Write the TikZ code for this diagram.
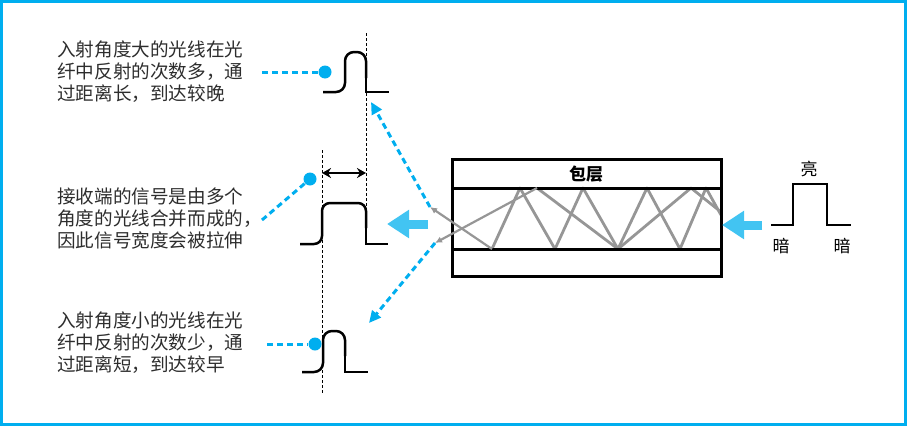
\documentclass[tikz,border=0pt]{standalone}
\usepackage{fontspec}
\setmainfont{Noto Sans CJK SC}
\usetikzlibrary{arrows.meta}

\definecolor{bleucadre}{RGB}{0,174,239}
\definecolor{bleufleche}{RGB}{66,196,242}
\definecolor{grisrayon}{RGB}{150,150,150}
\definecolor{gristexte}{RGB}{45,45,45}

\tikzset{
  texte/.style={align=left, text=gristexte, inner sep=0pt, anchor=west,
    font=\fontsize{18.6}{22}\selectfont},
  etiquette/.style={inner sep=0pt, font=\fontsize{17}{20}\selectfont},
  impulsion/.style={line width=2.5pt, black},
  bord/.style={line width=3pt, black},
  rayon/.style={grisrayon, line width=2.8pt, line join=round},
  sortie/.style={grisrayon, line width=2.2pt, -{Latex[length=7pt,width=6.5pt]}},
  point/.style={circle, fill=bleucadre, inner sep=0pt, minimum size=13pt},
  tirets/.style={bleucadre, line width=3pt, dash pattern=on 6pt off 4pt},
  grossefleche/.style={bleufleche, line width=9pt, -{Triangle[length=22pt,width=27pt]}},
  pointille/.style={line width=0.8pt, dash pattern=on 3pt off 2pt}
}

\begin{document}
\begin{tikzpicture}[x=1pt, y=-1pt]
      \useasboundingbox (0,0) rectangle (908,426);

      %cadre
      \draw[bleucadre, line width=3pt] (1.5,1.5) rectangle (905,424.5);

      %rayons dans le coeur
      \coordinate (b1) at (492,249);
      \coordinate (h1) at (537,188);
      \draw[rayon] (721,215) -- (706,188) -- (680,249) -- (647,188) -- (618,249)
        -- (583,188) -- (555,249) -- (520,188) -- (b1);
      \draw[rayon] (721,212) -- (691,188) -- (618,249) -- (h1);

      %fibre
      \draw[bord] (452,159) rectangle (721,276);
      \draw[bord] (452,188) -- (721,188);
      \draw[bord] (452,249) -- (721,249);
      \node[etiquette, font=\fontsize{17}{20}\selectfont\bfseries] (gaine) at (586,174) {包层};

      %sorties
      \coordinate (sortieH) at (430,207);
      \coordinate (sortieB) at (435,243);
      \coordinate (finH) at (371,102);
      \coordinate (finB) at (369,323);
      \draw[tirets, -{Triangle[length=12pt,width=11pt]}] (sortieH) -- (finH);
      \draw[tirets, -{Triangle[length=12pt,width=11pt]}] (sortieB) -- (finB);
      \draw[sortie] (b1) -- (sortieH);
      \draw[sortie] (h1) -- (sortieB);

      %grosses fleches
      \coordinate (entreeD) at (762,225);
      \coordinate (entreeG) at (722,225);
      \coordinate (quitteD) at (428,224);
      \coordinate (quitteG) at (387,224);
      \draw[grossefleche] (entreeD) -- (entreeG);
      \draw[grossefleche] (quitteD) -- (quitteG);

      %impulsion d'entree
      \draw[impulsion] (771,225) -- (793,225) -- (793,184) -- (827,184) -- (827,225) -- (851,225);
      \node[etiquette] (clair) at (809,169) {亮};
      \node[etiquette] (sombreG) at (781,246) {暗};
      \node[etiquette] (sombreD) at (842,246) {暗};

      %lignes verticales
      \draw[pointille] (322,150) -- (322,393);
      \draw[pointille] (366,33) -- (366,244);

      %impulsions de sortie
      \draw[impulsion, rounded corners=9pt] (323,92) -- (345,92) -- (345,52) -- (366,52) -- (366,78);
      \draw[impulsion] (366,64) -- (366,92) -- (389,92);
      \draw[impulsion, rounded corners=8pt] (300,244) -- (322,244) -- (322,203) -- (366,203) -- (366,228);
      \draw[impulsion] (366,212) -- (366,244) -- (388,244);
      \draw[impulsion, rounded corners=9pt] (302,372) -- (323,372) -- (323,331) -- (345,331) -- (345,356);
      \draw[impulsion] (345,342) -- (345,372) -- (368,372);

      %largeur
      \coordinate (largG) at (322,173);
      \coordinate (largD) at (366,173);
      \draw[line width=2.2pt, {Stealth[length=9pt,width=10pt]}-{Stealth[length=9pt,width=10pt]}] (largG) -- (largD);

      %textes
      \node[texte] (txtLong) at (57,72) {入射角度大的光线在光\\纤中反射的次数多，通\\过距离长，到达较晚};
      \node[texte] (txtLarge) at (57,219) {接收端的信号是由多个\\角度的光线合并而成的，\\因此信号宽度会被拉伸};
      \node[texte] (txtCourt) at (57,343) {入射角度小的光线在光\\纤中反射的次数少，通\\过距离短，到达较早};

      %points
      \node[point] (pointH) at (325,72) {};
      \node[point] (pointM) at (310,179) {};
      \node[point] (pointB) at (315,344) {};
      \coordinate (debH) at (262,72);
      \coordinate (debM) at (262,220);
      \coordinate (debB) at (267,344);
      \draw[tirets] (debH) -- (pointH);
      \draw[tirets] (debM) -- (pointM);
      \draw[tirets] (debB) -- (pointB);
\end{tikzpicture}
\end{document}
